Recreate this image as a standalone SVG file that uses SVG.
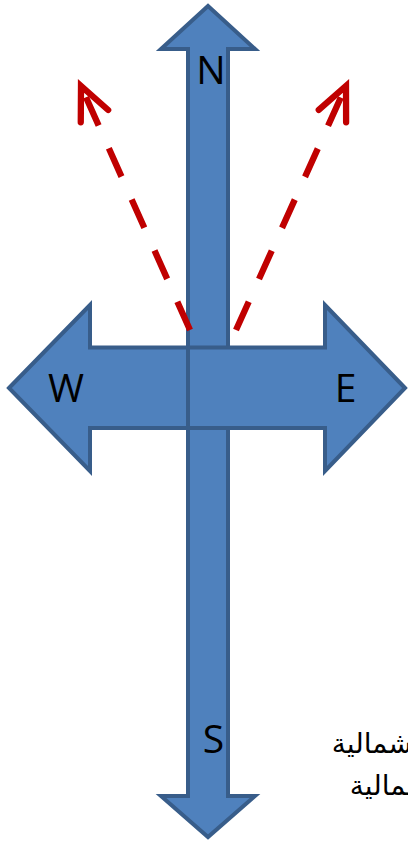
<svg xmlns="http://www.w3.org/2000/svg" width="408" height="841" viewBox="0 0 408 841">
  <style>
    .arrow { fill: #4F81BD; stroke: #385D8A; stroke-width: 4; stroke-linejoin: miter; }
    .lbl { font-family: "Open Sans", "Liberation Sans", sans-serif; font-size: 39px; fill: #000; text-anchor: middle; }
    .ar { font-family: "DejaVu Sans", sans-serif; font-size: 28px; fill: #000; text-anchor: end; }
    .dash { fill: none; stroke: #C00000; stroke-width: 6.3; stroke-dasharray: 31 25; marker-end: url(#openArrow); }
  </style>
  <defs>
    <marker id="openArrow" markerUnits="userSpaceOnUse" viewBox="-40 -20 44 40" refX="0" refY="0" markerWidth="44" markerHeight="40" orient="auto" overflow="visible">
      <path d="M-33,-15 L0,0 L-33,15" fill="none" stroke="#C00000" stroke-width="6.3" stroke-linecap="round" stroke-linejoin="miter"/>
    </marker>
  </defs>
  <rect width="408" height="841" fill="#fff"/>
  <g id="arrow-ns">
    <polygon class="arrow" points="208,6 255,49 228,49 228,796 255,796 208,837 161,796 188,796 188,49 161,49"/>
    <text class="lbl" x="211" y="84">N</text>
    <text class="lbl" x="213.5" y="753">S</text>
  </g>
  <g id="arrow-w">
    <polygon class="arrow" points="9,388 90,305 90,347.5 188,347.5 188,428 90,428 90,471"/>
    <text class="lbl" x="66" y="402">W</text>
  </g>
  <g id="arrow-e">
    <polygon class="arrow" points="405,388 325,305 325,347.5 188,347.5 188,428 325,428 325,471"/>
    <text class="lbl" x="345.5" y="402">E</text>
  </g>
  <g id="connectors">
    <path class="dash" d="M190,330 L81,86"/>
    <path class="dash" d="M236,330 L346,86"/>
  </g>
  <g id="label-arabic">
    <text class="ar" x="412" y="753">شمالية</text>
    <text class="ar" x="430" y="795">شمالية</text>
  </g>
</svg>
